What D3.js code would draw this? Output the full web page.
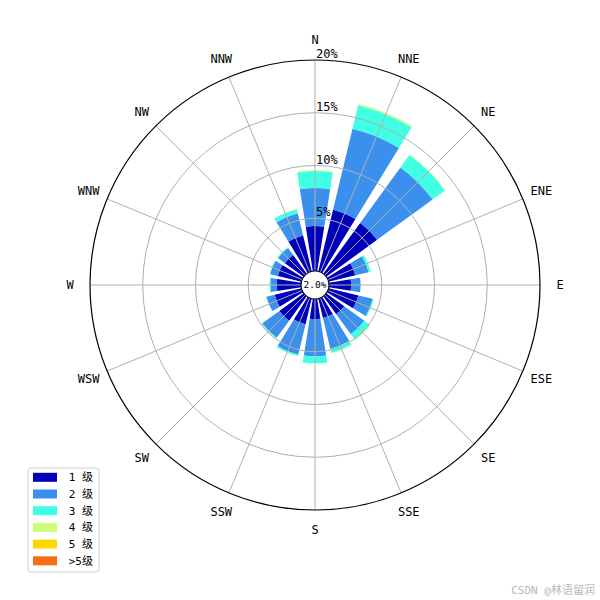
<!DOCTYPE html>
<html>
<head>
<meta charset="utf-8">
<script src="https://cdn.jsdelivr.net/npm/d3@7"></script>
<style>
	body { margin: 0; background: #fff; }
	text { font-family: "DejaVu Sans Mono", "Noto Sans CJK SC", monospace; }
</style>
</head>
<body>
<div id="rose"></div>
<script>
var directions = ['N', 'NNE', 'NE', 'ENE', 'E', 'ESE', 'SE', 'SSE', 'S', 'SSW', 'SW', 'WSW', 'W', 'WNW', 'NW', 'NNW'];
var levels = ['1 级', '2 级', '3 级', '4 级', '5 级', '>5级'];
var colors = ['#0000bb', '#3b90ee', '#40ffe4', '#ccff77', '#ffd700', '#f47012'];

// frequency (%) of each speed level per direction
var level1 = [4.27, 6.0, 5.95, 2.6, 2.1, 2.9, 2.1, 1.9, 1.9, 2.5, 2.85, 2.6, 2.3, 2.3, 2.2, 3.5];
var level2 = [3.6, 7.9, 6.5, 1.3, 0.9, 1.4, 2.35, 3.0, 3.55, 2.95, 2.0, 0.8, 0.6, 0.75, 0.8, 2.15];
var level3 = [1.6, 2.3, 1.45, 0.2, 0, 0.1, 0.65, 0.4, 0.65, 0.15, 0.1, 0.05, 0.1, 0.05, 0.1, 0.4];
var level4 = [0.08, 0.12, 0.05, 0.02, 0, 0.02, 0.08, 0.02, 0.02, 0.02, 0.03, 0, 0.02, 0, 0, 0.02];
var level5 = [0, 0, 0, 0, 0, 0, 0, 0, 0, 0, 0, 0, 0, 0, 0, 0];
var level6 = [0, 0, 0, 0, 0, 0, 0, 0, 0, 0, 0, 0, 0, 0, 0, 0];
var calm = '2.0%';
var ringTicks = [5, 10, 15, 20];

var width = 600,
	height = 600,
	cx = 315,
	cy = 285,
	innerR = 14,
	outerR = 225;

var svg = d3.select('#rose').append('svg')
	.attr('width', width)
	.attr('height', height);

var r = d3.scaleLinear()
	.domain([0, 20])
	.range([innerR, outerR]);

var step = 2 * Math.PI / directions.length,
	opening = step * 0.8;

var g = svg.append('g')
	.attr('transform', 'translate(' + cx + ',' + cy + ')');

// stack the levels
var table = directions.map(function (d, i) {
	var row = { dir: d, index: i };
	[level1, level2, level3, level4, level5, level6].forEach(function (arr, k) {
		row['L' + k] = arr[i];
	});
	return row;
});

var stack = d3.stack()
	.keys(levels.map(function (l, k) { return 'L' + k; }));

var series = stack(table);

var arc = d3.arc()
	.innerRadius(function (d) { return r(d[0]); })
	.outerRadius(function (d) { return r(d[1]); })
	.startAngle(function (d) { return d.data.index * step - opening / 2; })
	.endAngle(function (d) { return d.data.index * step + opening / 2; });

g.selectAll('g.level')
	.data(series)
	.enter()
	.append('g')
	.attr('class', 'level')
	.attr('fill', function (s, k) { return colors[k]; })
	.selectAll('path')
	.data(function (s) { return s.filter(function (d) { return d[1] > d[0]; }); })
	.enter()
	.append('path')
	.attr('d', arc);

// grid on top of the bars
g.selectAll('circle.ring')
	.data(ringTicks.slice(0, -1))
	.enter()
	.append('circle')
	.attr('class', 'ring')
	.attr('r', function (d) { return r(d); })
	.attr('fill', 'none')
	.attr('stroke', '#b0b0b0')
	.attr('stroke-width', 1);

g.selectAll('line.spoke')
	.data(directions)
	.enter()
	.append('line')
	.attr('class', 'spoke')
	.attr('x1', 0)
	.attr('y1', 0)
	.attr('x2', function (d, i) { return outerR * Math.sin(i * step); })
	.attr('y2', function (d, i) { return -outerR * Math.cos(i * step); })
	.attr('stroke', '#b0b0b0')
	.attr('stroke-width', 1);

g.append('circle')
	.attr('r', outerR)
	.attr('fill', 'none')
	.attr('stroke', '#000')
	.attr('stroke-width', 1.2);

// calm circle
g.append('circle')
	.attr('r', innerR)
	.attr('fill', '#fff')
	.attr('stroke', '#000')
	.attr('stroke-width', 1.2);

g.append('text')
	.attr('x', 0)
	.attr('y', 0)
	.attr('dy', '0.35em')
	.attr('text-anchor', 'middle')
	.style('font-size', '9.5px')
	.text(calm);

// ring labels
g.selectAll('text.rlabel')
	.data(ringTicks)
	.enter()
	.append('text')
	.attr('class', 'rlabel')
	.attr('x', 1)
	.attr('y', function (d) { return -r(d) - 2; })
	.style('font-size', '12px')
	.text(function (d) { return d + '%'; });

// direction labels
g.selectAll('text.dir')
	.data(directions)
	.enter()
	.append('text')
	.attr('class', 'dir')
	.attr('x', function (d, i) { return 245 * Math.sin(i * step); })
	.attr('y', function (d, i) { return -245 * Math.cos(i * step); })
	.attr('dy', '0.35em')
	.attr('text-anchor', 'middle')
	.style('font-size', '12px')
	.text(function (d) { return d; });

// legend
var legend = svg.append('g')
	.attr('transform', 'translate(28,468)');

legend.append('rect')
	.attr('width', 71)
	.attr('height', 104)
	.attr('rx', 3)
	.attr('fill', '#fff')
	.attr('stroke', '#d0d0d0');

var item = legend.selectAll('g.item')
	.data(levels)
	.enter()
	.append('g')
	.attr('class', 'item')
	.attr('transform', function (d, i) { return 'translate(0,' + (9.3 + i * 16.7) + ')'; });

item.append('rect')
	.attr('x', 5)
	.attr('y', -4.5)
	.attr('width', 24)
	.attr('height', 9)
	.attr('fill', function (d, i) { return colors[i]; });

item.append('text')
	.attr('x', 65)
	.attr('dy', '0.35em')
	.attr('text-anchor', 'end')
	.style('font-size', '11px')
	.text(function (d) { return d; });

svg.append('text')
	.attr('x', 595)
	.attr('y', 594)
	.attr('text-anchor', 'end')
	.attr('fill', '#b8b8b8')
	.style('font-size', '11px')
	.text('CSDN @林语留润');
</script>
</body>
</html>
